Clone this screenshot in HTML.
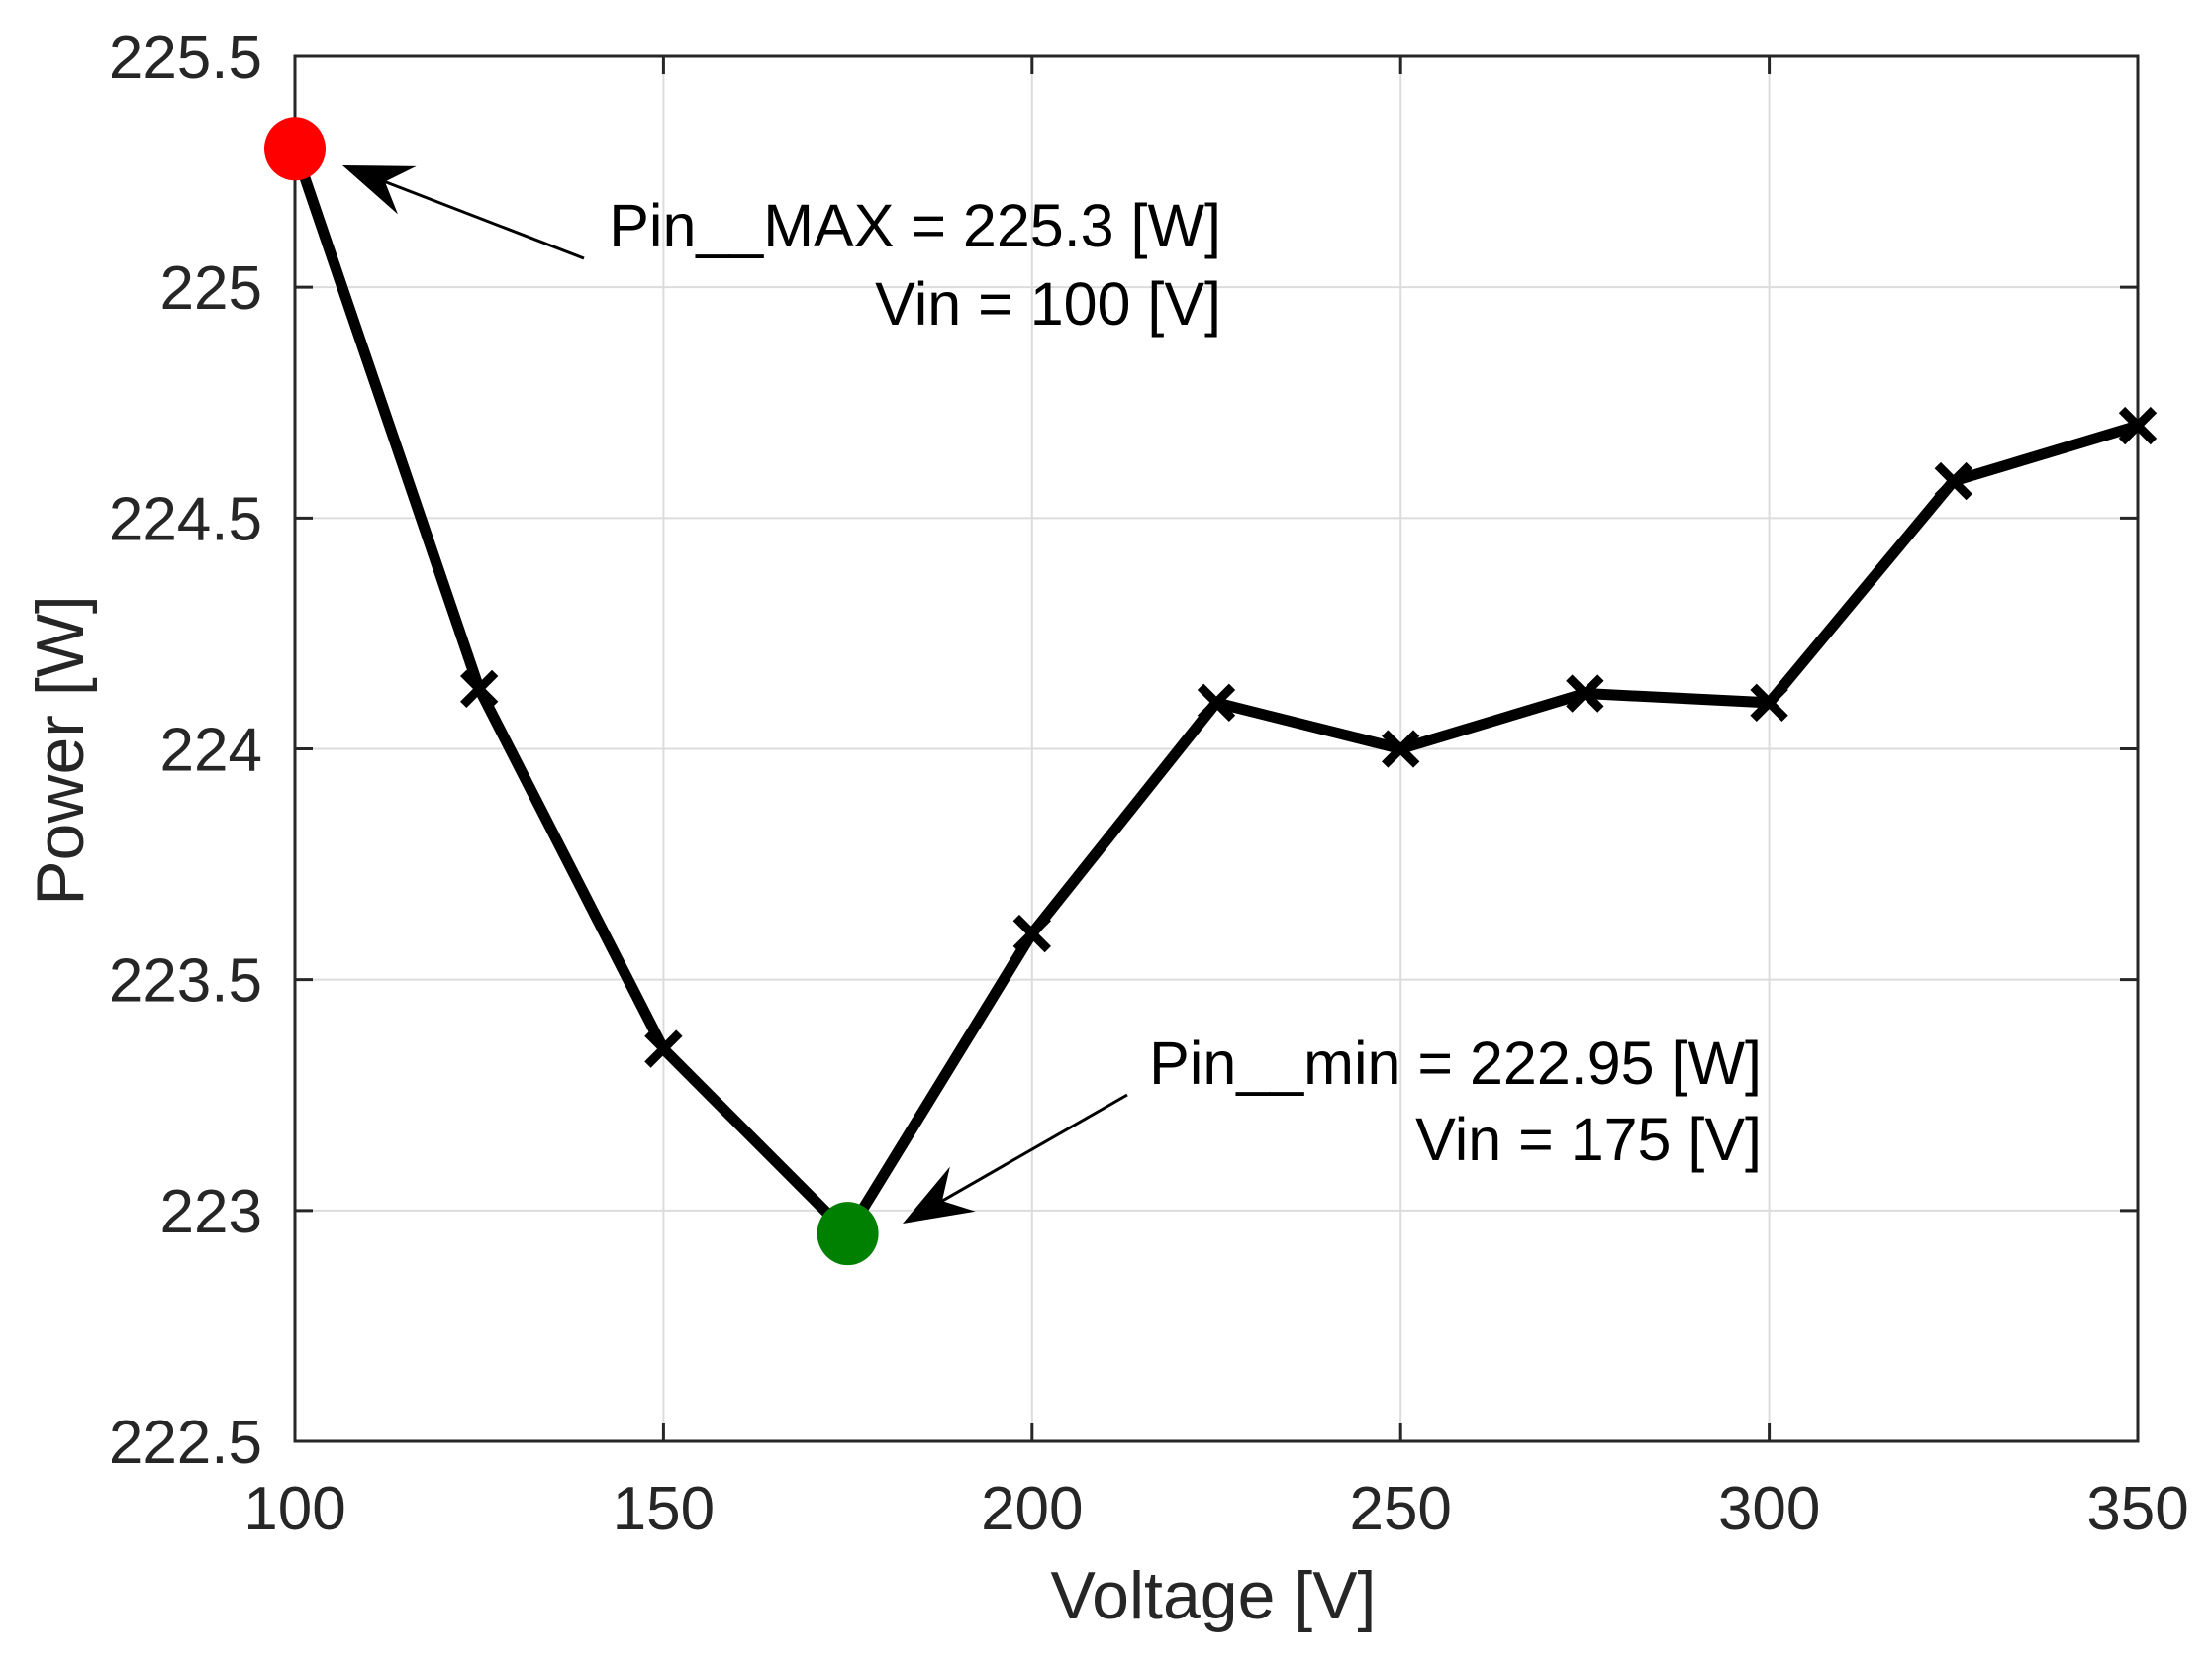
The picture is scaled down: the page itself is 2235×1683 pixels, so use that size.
<!DOCTYPE html>
<html><head><meta charset="utf-8"><style>
html,body{margin:0;padding:0;background:#fff;}
svg{display:block;font-family:"Liberation Sans",Arial,sans-serif;}
</style></head><body>
<svg id="chart" width="2235" height="1683" viewBox="0 0 2235 1683" xmlns="http://www.w3.org/2000/svg">
<g id="grid"></g>
<g id="axes"></g>
<g id="series"></g>
<g id="annot"></g>
</svg>
<script>
const voltages = [100,125,150,175,200,225,250,275,300,325,350];
const powers = [225.3,224.13,223.35,222.95,223.6,224.1,224.0,224.12,224.1,224.58,224.7];
const xTicks = [100,150,200,250,300,350];
const yTicks = [222.5,223,223.5,224,224.5,225,225.5];
const yTickLabels = ["222.5","223","223.5","224","224.5","225","225.5"];
const maxIndex = 0;
const minIndex = 3;

const L=298,R=2160,T=57,B=1456;
const xMin=100,xMax=350,yMin=222.5,yMax=225.5;
function sx(v){return L+(v-xMin)/(xMax-xMin)*(R-L);}
function sy(v){return B-(v-yMin)/(yMax-yMin)*(B-T);}
const NS="http://www.w3.org/2000/svg";
function mk(tag,attrs,parent,text){const e=document.createElementNS(NS,tag);for(const k in attrs)e.setAttribute(k,attrs[k]);if(text!==undefined)e.textContent=text;parent.appendChild(e);return e;}
const grid=document.getElementById('grid'),axes=document.getElementById('axes'),series=document.getElementById('series'),annot=document.getElementById('annot');

xTicks.forEach(v=>{
  const x=sx(v);
  const g=mk('line',{x1:x,y1:T,x2:x,y2:B,stroke:'#dcdcdc','stroke-width':2},grid);
  
  
  mk('line',{x1:x,y1:B,x2:x,y2:B-18,stroke:'#262626','stroke-width':3},axes);
  mk('line',{x1:x,y1:T,x2:x,y2:T+18,stroke:'#262626','stroke-width':3},axes);
  const t=mk('text',{x:x,y:1545,'text-anchor':'middle','font-size':62,fill:'#262626'},axes,String(v));
  
  
});
yTicks.forEach((v,i)=>{
  const y=sy(v);
  const g=mk('line',{x1:L,y1:y,x2:R,y2:y,stroke:'#dcdcdc','stroke-width':2},grid);
  
  
  mk('line',{x1:L,y1:y,x2:L+18,y2:y,stroke:'#262626','stroke-width':3},axes);
  mk('line',{x1:R,y1:y,x2:R-18,y2:y,stroke:'#262626','stroke-width':3},axes);
  const t=mk('text',{x:265,y:y+22,'text-anchor':'end','font-size':62,fill:'#262626'},axes,yTickLabels[i]);
  
  
});
const frame=mk('rect',{x:L,y:T,width:R-L,height:B-T,fill:'none',stroke:'#262626','stroke-width':3},axes);


const xl=mk('text',{x:1226,y:1635,'text-anchor':'middle','font-size':68,fill:'#262626'},axes,'Voltage [V]');


const yl=mk('text',{x:0,y:0,'text-anchor':'middle','font-size':68,fill:'#262626',transform:'translate(84,758) rotate(-90)'},axes,'Power [W]');



const pts=voltages.map((v,i)=>sx(v)+','+sy(powers[i])).join(' ');
const line=mk('polyline',{points:pts,fill:'none',stroke:'#000','stroke-width':11,'stroke-linejoin':'round'},series);


voltages.forEach((v,i)=>{
  if(i===maxIndex||i===minIndex)return;
  const x=sx(v),y=sy(powers[i]),s=16;
  const p=mk('path',{d:`M${x-s},${y-s}L${x+s},${y+s}M${x-s},${y+s}L${x+s},${y-s}`,stroke:'#000','stroke-width':9,fill:'none'},series);
  
  
});
const cmax=mk('ellipse',{cx:sx(voltages[maxIndex]),cy:sy(powers[maxIndex]),rx:31,ry:32,fill:'#ff0000'},series);


const cmin=mk('ellipse',{cx:sx(voltages[minIndex]),cy:sy(powers[minIndex]),rx:31,ry:32,fill:'#008000'},series);



function arrow(x1,y1,x2,y2,name){
  const g=mk('g',{},annot);
  
  
  const a=Math.atan2(y2-y1,x2-x1),len=70,w=26,back=46;
  const bx=x2-Math.cos(a)*len,by=y2-Math.sin(a)*len;
  const nx=-Math.sin(a),ny=Math.cos(a);
  const mx=x2-Math.cos(a)*back,my=y2-Math.sin(a)*back;
  mk('line',{x1:x1,y1:y1,x2:mx,y2:my,stroke:'#000','stroke-width':3},g);
  mk('polygon',{points:`${x2},${y2} ${bx+nx*w},${by+ny*w} ${mx},${my} ${bx-nx*w},${by-ny*w}`,fill:'#000'},g);
}
arrow(590,261,346,167,'max-arrow');
arrow(1139,1106,912,1236,'min-arrow');
const t1=mk('text',{x:1234,y:249,'text-anchor':'end','font-size':61,fill:'#000'},annot,'Pin__MAX = 225.3 [W]');


const t2=mk('text',{x:1234,y:328,'text-anchor':'end','font-size':61,fill:'#000'},annot,'Vin = 100 [V]');


const t3=mk('text',{x:1780,y:1095,'text-anchor':'end','font-size':61,fill:'#000'},annot,'Pin__min = 222.95 [W]');


const t4=mk('text',{x:1780,y:1172,'text-anchor':'end','font-size':61,fill:'#000'},annot,'Vin = 175 [V]');


</script>
</body></html>
